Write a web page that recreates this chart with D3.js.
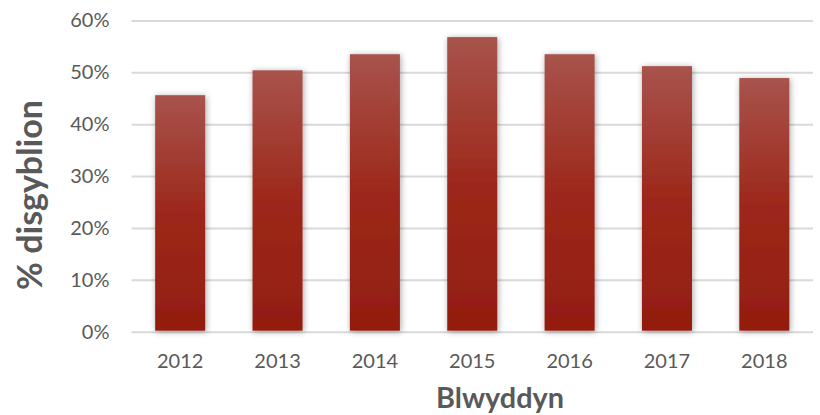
<!DOCTYPE html>
<html>
<head>
<meta charset="utf-8">
<script src="https://cdn.jsdelivr.net/npm/d3@7/dist/d3.min.js"></script>
<style>
  html, body { margin: 0; padding: 0; background: #fff; }
  svg { display: block; }
  text { font-family: Lato, "Open Sans", sans-serif; fill: #595959; }
</style>
</head>
<body>
<div id="chart"></div>
<script>
const years = ["2012", "2013", "2014", "2015", "2016", "2017", "2018"];
const values = [45.6, 50.4, 53.5, 56.8, 53.5, 51.2, 48.9];
const yTicks = [0, 10, 20, 30, 40, 50, 60];
const yTitle = "% disgyblion";
const xTitle = "Blwyddyn";

const W = 820, H = 415;
const margin = { left: 131.5, right: 7, top: 20.5, bottom: 83.5 };

const svg = d3.select("#chart").append("svg").attr("width", W).attr("height", H);

const defs = svg.append("defs");
const grad = defs.append("linearGradient").attr("id", "barGrad")
  .attr("x1", 0).attr("y1", 0).attr("x2", 0).attr("y2", 1);
grad.append("stop").attr("offset", "0%").attr("stop-color", "#a8534c");
grad.append("stop").attr("offset", "50%").attr("stop-color", "#9d281b");
grad.append("stop").attr("offset", "100%").attr("stop-color", "#931d10");

const filt = defs.append("filter").attr("id", "shadow")
  .attr("x", "-30%").attr("y", "-10%").attr("width", "160%").attr("height", "120%");
filt.append("feDropShadow").attr("dx", 1).attr("dy", 1).attr("stdDeviation", 3)
  .attr("flood-color", "#000").attr("flood-opacity", 0.35);

const x = d3.scaleBand().domain(years)
  .range([margin.left, W - margin.right]).paddingInner(0.486).paddingOuter(0.243);
const y = d3.scaleLinear().domain([0, 60]).range([H - margin.bottom + 0.2, margin.top]);

// gridlines
const yAxis = d3.axisLeft(y).tickValues(yTicks).tickFormat(d => d + "%")
  .tickSize(-(W - margin.right - margin.left)).tickPadding(22);
const gy = svg.append("g").attr("transform", `translate(${margin.left},0)`).call(yAxis);
gy.select(".domain").remove();
gy.selectAll(".tick line").attr("stroke", "#d9d9d9").attr("stroke-width", 2);
gy.selectAll(".tick text").attr("font-size", 20).attr("fill", "#595959")
  .style("font-family", "Lato, sans-serif");

// bars
svg.append("g").selectAll("rect").data(values).join("rect")
  .attr("x", (d, i) => x(years[i]))
  .attr("y", d => y(d))
  .attr("width", x.bandwidth())
  .attr("height", d => y(0) - y(d) - 1)
  .attr("fill", "url(#barGrad)")
  .attr("filter", "url(#shadow)");

// x axis labels
const xAxis = d3.axisBottom(x).tickSize(0).tickPadding(22);
const gx = svg.append("g").attr("transform", `translate(0,${y(0)})`).call(xAxis);
gx.select(".domain").remove();
gx.selectAll(".tick text").attr("font-size", 20).attr("fill", "#595959")
  .style("font-family", "Lato, sans-serif");

function fitWidth(sel, target) {
  const len = sel.node().getComputedTextLength();
  const fs = parseFloat(sel.attr("font-size"));
  sel.attr("font-size", fs * target / len);
}

// axis titles
const yt = svg.append("text")
  .attr("transform", `translate(42,195) rotate(-90)`)
  .attr("text-anchor", "middle")
  .attr("font-size", 34).attr("font-weight", "bold")
  .text(yTitle);
fitWidth(yt, 190);

const xt = svg.append("text")
  .attr("x", 500)
  .attr("y", 408)
  .attr("text-anchor", "middle")
  .attr("font-size", 28).attr("font-weight", "bold")
  .text(xTitle);
fitWidth(xt, 128);
</script>
</body>
</html>
